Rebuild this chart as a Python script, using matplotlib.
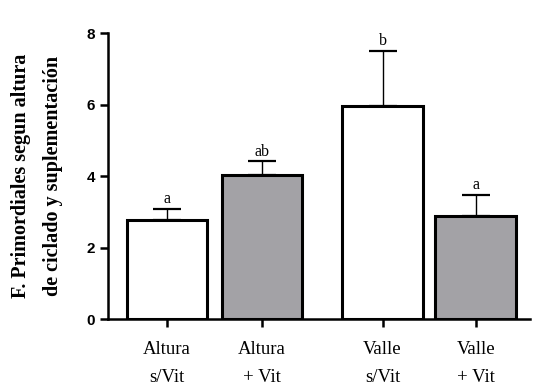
import matplotlib.pyplot as plt

# Datos del grafico
grupos = ['Altura\ns/Vit', 'Altura\n+ Vit', 'Valle\ns/Vit', 'Valle\n+ Vit']
posiciones = [0, 1, 2.27, 3.25]
medias = [2.77, 4.04, 5.95, 2.89]
errores = [0.32, 0.37, 1.56, 0.58]
letras = ['a', 'ab', 'b', 'a']
colores = ['white', '#a3a2a6', 'white', '#a3a2a6']

fig = plt.figure(figsize=(5.33, 3.87), dpi=100)
ax = fig.add_axes([0.2026, 0.1757, 0.7914, 0.739])

ax.bar(posiciones, medias, width=0.85, color=colores, edgecolor='black',
       linewidth=2.2, zorder=3)
ax.errorbar(posiciones, medias, yerr=[[0] * 4, errores], fmt='none',
            ecolor='black', elinewidth=1.0, capsize=10, capthick=1.6, zorder=2)

# Letras de significancia
for x, m, e, l in zip(posiciones, medias, errores, letras):
    ax.text(x, m + e + 0.05, l, ha='center', va='bottom',
            family='Liberation Serif', fontsize=11.5)

ax.set_xlim(-0.62, 3.82)
ax.set_ylim(0, 8)
ax.set_yticks([0, 2, 4, 6, 8])
ax.set_xticks(posiciones)
ax.set_xticklabels(grupos, family='Liberation Serif', fontsize=13.5,
                   linespacing=1.85)
for t in ax.get_yticklabels():
    t.set_family('Liberation Sans')
    t.set_fontweight('bold')
    t.set_fontsize(11)

ax.spines['top'].set_visible(False)
ax.spines['right'].set_visible(False)
ax.spines['left'].set_linewidth(1.8)
ax.spines['bottom'].set_linewidth(1.8)
ax.tick_params(axis='both', width=1.8, length=6)
ax.tick_params(axis='x', length=6, pad=10)

ax.set_ylabel('F. Primordiales segun altura\nde ciclado y suplementación',
              family='Liberation Serif', fontweight='bold', fontsize=14.5,
              linespacing=1.75, labelpad=17)

fig.savefig('out.png', dpi=100)
